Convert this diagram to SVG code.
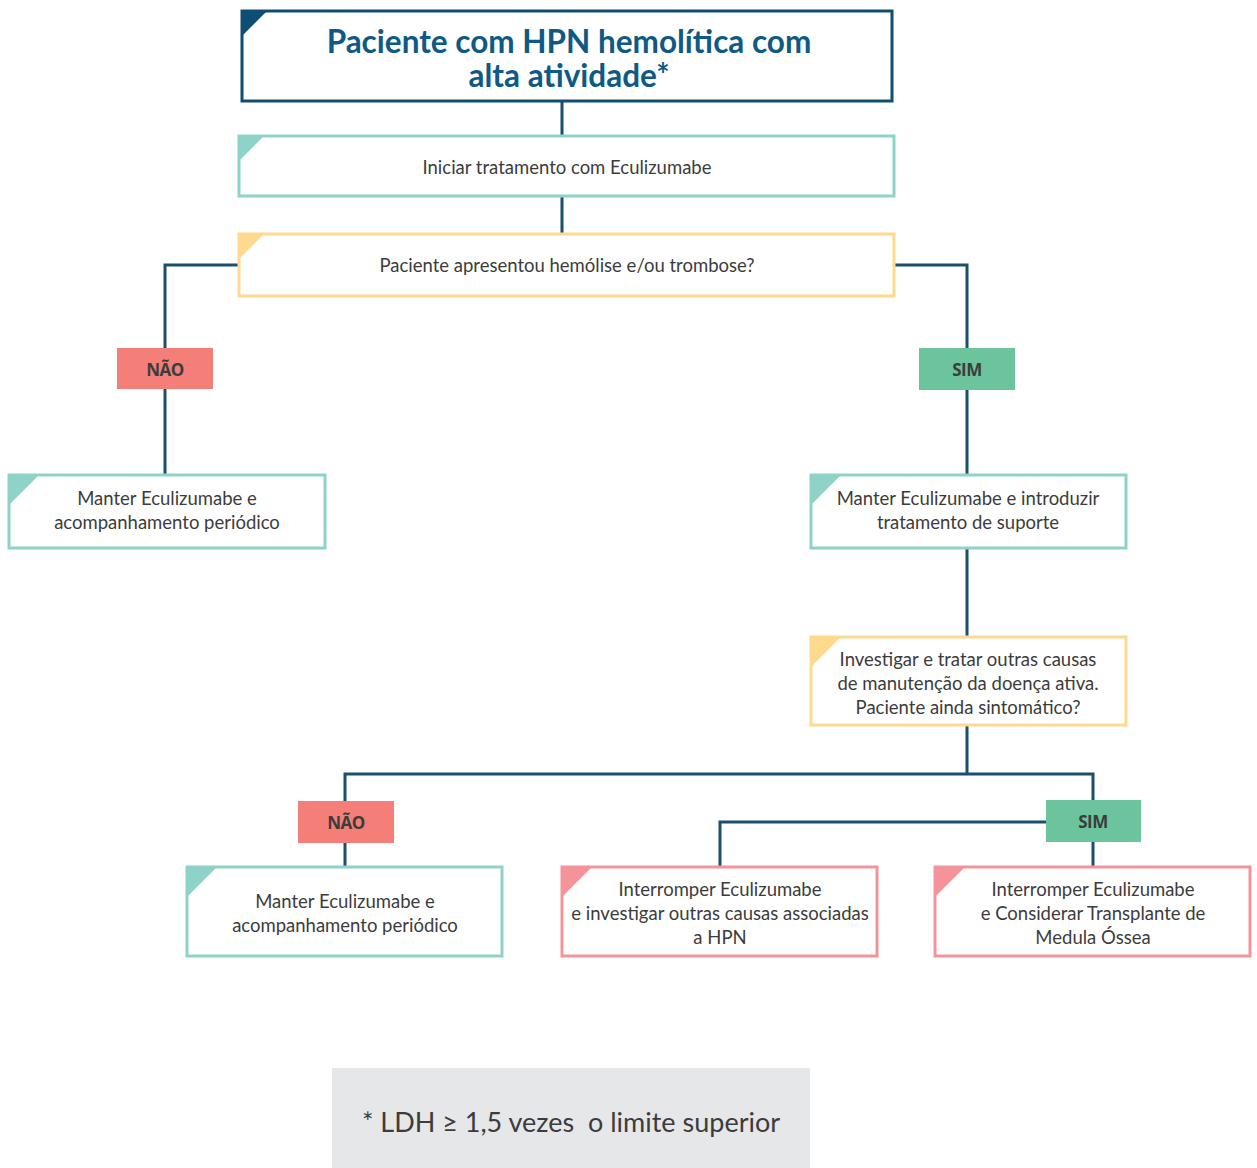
<svg xmlns="http://www.w3.org/2000/svg" width="1257" height="1168" viewBox="0 0 1257 1168">
<style>
.box{fill:#fff;stroke-width:3}
.teal{stroke:#8fd3c8}
.yel{stroke:#ffd98e}
.pink{stroke:#f4949a}
.tri-teal{fill:#8fd3c8}
.tri-yel{fill:#ffd98e}
.tri-pink{fill:#f4949a}
.t{font-family:Lato,"Noto Sans",sans-serif;font-size:18.5px;fill:#3c3c3c;text-anchor:middle}
.lab{font-family:"Open Sans","Noto Sans",sans-serif;font-size:17px;font-weight:bold;fill:#3c3c3c;text-anchor:middle;letter-spacing:-0.5px}
.con{fill:none;stroke:#1b4f6e;stroke-width:3}
.title{font-family:Lato,"Noto Sans",sans-serif;font-size:31.5px;font-weight:bold;fill:#0e5a85;text-anchor:middle}
</style>
<g id="connectors">
<path class="con" d="M562 101V136M562 196V234"/>
<path class="con" d="M239 265H165V475"/>
<path class="con" d="M894 265H967V475"/>
<path class="con" d="M967 548V637M967 725V774"/>
<path class="con" d="M345 867V774H1093V867"/>
<path class="con" d="M720 867V822H1046"/>
</g>
<g id="title">
<rect x="242" y="11" width="650" height="90" fill="#fff" stroke="#0e4d74" stroke-width="3"/>
<path d="M242 11H267L242 36Z" fill="#0e4d74"/>
<text class="title" x="569" y="53">Paciente com HPN hemolítica com</text>
<text class="title" x="569" y="87">alta atividade*</text>
</g>
<g id="iniciar">
<rect class="box teal" x="239" y="136" width="655" height="60"/>
<path class="tri-teal" d="M239 136H264L239 161Z"/>
<text class="t" x="567" y="174">Iniciar tratamento com Eculizumabe</text>
</g>
<g id="q1">
<rect class="box yel" x="239" y="234" width="655" height="62"/>
<path class="tri-yel" d="M239 234H264L239 259Z"/>
<text class="t" x="567" y="272">Paciente apresentou hemólise e/ou trombose?</text>
</g>
<g id="nao1">
<rect x="117" y="348" width="96" height="41" fill="#f47f79"/>
<text class="lab" x="165" y="376">NÃO</text>
</g>
<g id="sim1">
<rect x="919" y="348" width="96" height="42" fill="#6bc49b"/>
<text class="lab" x="967" y="376">SIM</text>
</g>
<g id="manter1">
<rect class="box teal" x="9" y="475" width="316" height="73"/>
<path class="tri-teal" d="M9 475H39L9 505Z"/>
<text class="t" x="167" y="505">Manter Eculizumabe e</text>
<text class="t" x="167" y="529">acompanhamento periódico</text>
</g>
<g id="manter2">
<rect class="box teal" x="811" y="475" width="315" height="73"/>
<path class="tri-teal" d="M811 475H841L811 505Z"/>
<text class="t" x="968" y="505">Manter Eculizumabe e introduzir</text>
<text class="t" x="968" y="529">tratamento de suporte</text>
</g>
<g id="q2">
<rect class="box yel" x="811" y="637" width="315" height="88"/>
<path class="tri-yel" d="M811 637H841L811 667Z"/>
<text class="t" x="968" y="666">Investigar e tratar outras causas</text>
<text class="t" x="968" y="690">de manutenção da doença ativa.</text>
<text class="t" x="968" y="714">Paciente ainda sintomático?</text>
</g>
<g id="nao2">
<rect x="298" y="801" width="96" height="42" fill="#f47f79"/>
<text class="lab" x="346" y="829">NÃO</text>
</g>
<g id="sim2">
<rect x="1046" y="800" width="95" height="42" fill="#6bc49b"/>
<text class="lab" x="1093" y="828">SIM</text>
</g>
<g id="manter3">
<rect class="box teal" x="187" y="867" width="315" height="89"/>
<path class="tri-teal" d="M187 867H217L187 897Z"/>
<text class="t" x="345" y="908">Manter Eculizumabe e</text>
<text class="t" x="345" y="932">acompanhamento periódico</text>
</g>
<g id="interromper1">
<rect class="box pink" x="562" y="867" width="315" height="89"/>
<path class="tri-pink" d="M562 867H592L562 897Z"/>
<text class="t" x="720" y="896">Interromper Eculizumabe</text>
<text class="t" x="720" y="920">e investigar outras causas associadas</text>
<text class="t" x="720" y="944">a HPN</text>
</g>
<g id="interromper2">
<rect class="box pink" x="935" y="867" width="315" height="89"/>
<path class="tri-pink" d="M935 867H965L935 897Z"/>
<text class="t" x="1093" y="896">Interromper Eculizumabe</text>
<text class="t" x="1093" y="920">e Considerar Transplante de</text>
<text class="t" x="1093" y="944">Medula Óssea</text>
</g>
<g id="nota">
<rect x="332" y="1068" width="478" height="100" fill="#e6e7e8"/>
<text x="571" y="1132" font-family="Lato,'Noto Sans',sans-serif" font-size="27" fill="#3c3c3c" text-anchor="middle" xml:space="preserve">* LDH ≥ 1,5 vezes  o limite superior</text>
</g>
</svg>
